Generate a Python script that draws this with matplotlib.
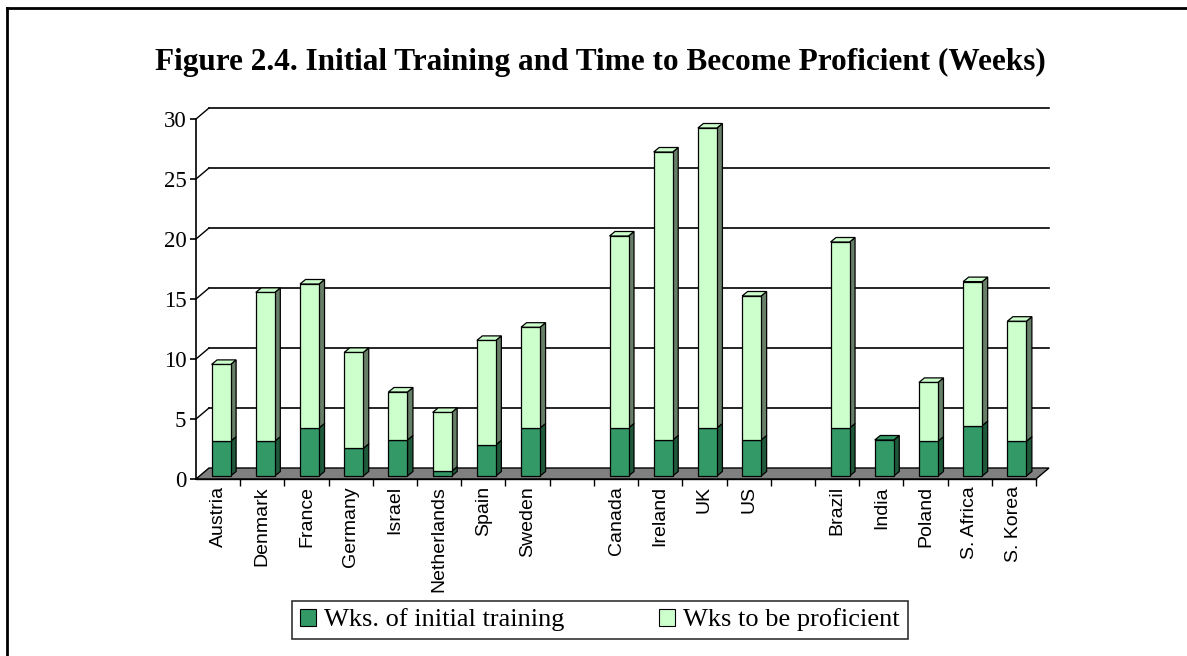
import numpy as np
import matplotlib
matplotlib.use("Agg")
import matplotlib.pyplot as plt
from matplotlib.patches import Polygon, Rectangle, Patch
from matplotlib.lines import Line2D

countries = ["Austria", "Denmark", "France", "Germany", "Israel", "Netherlands",
             "Spain", "Sweden",
             "Canada", "Ireland", "UK", "US",
             "Brazil", "India", "Poland", "S. Africa", "S. Korea"]
group_sizes = [8, 4, 5]
initial = [2.9, 2.9, 4.0, 2.3, 3.0, 0.4, 2.6, 4.0,
           4.0, 3.0, 4.0, 3.0,
           4.0, 3.0, 2.9, 4.2, 2.9]
proficient = [6.4, 12.4, 12.0, 8.0, 4.0, 4.9, 8.7, 8.4,
              16.0, 24.0, 25.0, 12.0,
              15.5, 0.0, 4.9, 12.0, 10.0]
yticks = [0, 5, 10, 15, 20, 25, 30]

W, H = 1187, 656
fig = plt.figure(figsize=(W / 100, H / 100), dpi=100)
fig.patch.set_facecolor("white")

# front plane of the 3d box, in pixels
x0_px, x1_px = 196, 1036
y0_px, y1_px = 479, 119
ax = fig.add_axes([x0_px / W, 1 - y0_px / H, (x1_px - x0_px) / W, (y0_px - y1_px) / H])

# slot positions with one empty slot between groups
pos = []
s = 0
for g in group_sizes:
    pos.extend(range(s, s + g))
    s += g + 1
nslots = s - 1
xl, xr = -0.5, nslots - 0.5
ax.set_xlim(xl, xr)
ax.set_ylim(0, 30)

sx = (xr - xl) / (x1_px - x0_px)   # data per pixel
sy = 30 / (y0_px - y1_px)

wall = (13 * sx, 11 * sy)          # back wall offset
front = (3 * sx, 3 * sy)           # bar front offset
depth = (5.5 * sx, 4.5 * sy)       # bar depth
bw = 19 * sx

# floor
floor = Polygon([(xl, 0), (xr, 0), (xr + wall[0], wall[1]), (xl + wall[0], wall[1])],
                closed=True, facecolor="#808080", edgecolor="black", lw=1,
                clip_on=False, zorder=1)
ax.add_patch(floor)

# gridlines on back wall + left wall diagonals
for yv in yticks[1:]:
    ax.plot([xl + wall[0], xr + wall[0]], [yv + wall[1], yv + wall[1]],
            color="black", lw=1.2, clip_on=False, zorder=0.5)
    ax.plot([xl, xl + wall[0]], [yv, yv + wall[1]], color="black", lw=1,
            clip_on=False, zorder=0.5)


def box(cx, b, t, fc, side, top):
    left = cx - bw / 2 + front[0]
    right = left + bw
    bb, tt = b + front[1], t + front[1]
    ax.add_patch(Polygon([(right, bb), (right + depth[0], bb + depth[1]),
                          (right + depth[0], tt + depth[1]), (right, tt)],
                         closed=True, facecolor=side, edgecolor="black", lw=0.9,
                         clip_on=False, zorder=3))
    ax.add_patch(Rectangle((left, bb), bw, tt - bb, facecolor=fc, edgecolor="black",
                           lw=0.9, clip_on=False, zorder=4))
    if top is not None:
        ax.add_patch(Polygon([(left, tt), (right, tt), (right + depth[0], tt + depth[1]),
                              (left + depth[0], tt + depth[1])],
                             closed=True, facecolor=top, edgecolor="black", lw=0.9,
                             clip_on=False, zorder=4))


dark, dark_side = "#339966", "#1e5a3a"
light, light_side = "#ccffcc", "#667f66"
for p, a, b in zip(pos, initial, proficient):
    box(p, 0, a, dark, dark_side, dark if b == 0 else None)
    if b > 0:
        box(p, a, a + b, light, light_side, light)

# axes styling
for k in ["top", "right"]:
    ax.spines[k].set_visible(False)
ax.spines["left"].set_linewidth(1.2)
ax.set_facecolor("none")
ax.set_yticks(yticks)
ax.set_yticklabels([str(v) for v in yticks], family="Liberation Serif", fontsize=16.5)
ax.tick_params(axis="y", length=4, width=1.2, pad=3)
ax.set_xticks(pos)
ax.set_xticklabels(countries, rotation=90, family="Liberation Sans", fontsize=14)
ax.set_xticks(np.arange(xl + 1, xr + 0.01, 1), minor=True)
ax.tick_params(axis="x", which="major", length=0, pad=5)
ax.tick_params(axis="x", which="minor", length=5, width=1, direction="out")
ax.spines["bottom"].set_linewidth(1)

fig.text(600 / W, 1 - 62 / H,
         "Figure 2.4. Initial Training and Time to Become Proficient (Weeks)",
         ha="center", va="center", family="Liberation Serif", fontweight="bold",
         fontsize=22.5)

handles = [Patch(facecolor=dark, edgecolor="black", lw=0.8, label="Wks. of initial training"),
           Patch(facecolor=light, edgecolor="black", lw=0.8, label="Wks to be proficient")]
leg = fig.legend(handles=handles, loc="center", bbox_to_anchor=(600 / W, 1 - 620 / H),
                 ncol=2, frameon=True, fancybox=False, edgecolor="black",
                 prop={"family": "Liberation Serif", "size": 19},
                 handlelength=0.6, handleheight=0.6, handletextpad=0.3,
                 columnspacing=3.6, borderpad=0.3)
leg.get_frame().set_linewidth(1.2)

# outer frame (top and left)
fig.add_artist(Line2D([7 / W, 1], [1 - 8 / H, 1 - 8 / H], color="black", lw=2,
                      transform=fig.transFigure))
fig.add_artist(Line2D([7 / W, 7 / W], [0, 1 - 8 / H], color="black", lw=2,
                      transform=fig.transFigure))

fig.savefig("out.png", dpi=100)
